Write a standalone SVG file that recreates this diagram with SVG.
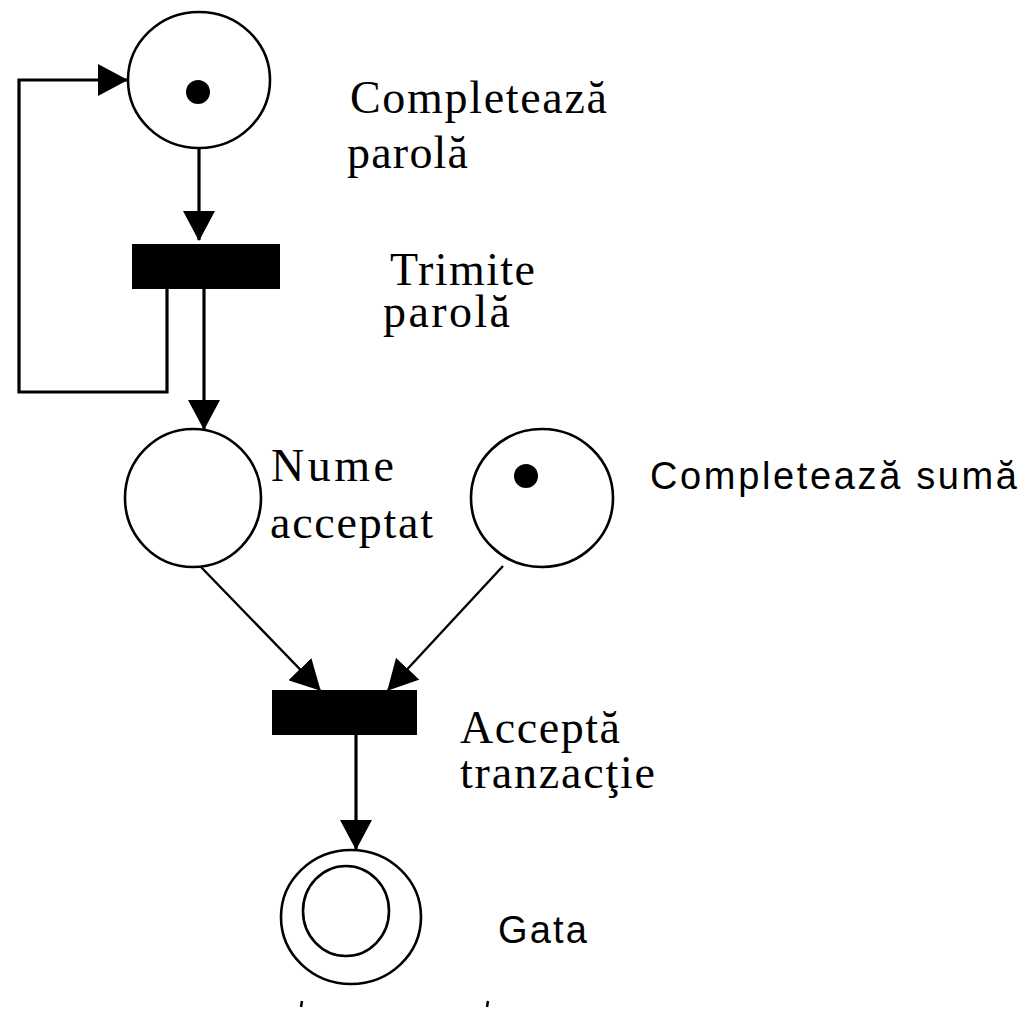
<svg xmlns="http://www.w3.org/2000/svg" width="1030" height="1010" viewBox="0 0 1030 1010">
  <style>
    .place { fill: #fff; stroke: #000; stroke-width: 2.6; }
    .token { fill: #000; }
    .trans { fill: #000; }
    .arc { fill: none; stroke: #000; stroke-width: 3.2; }
    .arc-thin { fill: none; stroke: #000; stroke-width: 2.4; }
    .serif { font-family: "Liberation Serif", "Times New Roman", serif; font-size: 46px; fill: #000; }
    .sans { font-family: "Liberation Sans", Arial, sans-serif; font-size: 38px; fill: #000; }
  </style>
  <defs>
    <marker id="head" markerUnits="userSpaceOnUse" viewBox="0 0 30 32" markerWidth="30" markerHeight="32" refX="29" refY="16" orient="auto">
      <path d="M0,0 L30,16 L0,32 Z" fill="#000"/>
    </marker>
  </defs>

  <rect width="1030" height="1010" fill="#fff"/>

  <!-- connectors -->
  <g id="connectors">
    <line class="arc" x1="199" y1="148" x2="199" y2="240" marker-end="url(#head)"/>
    <line class="arc" x1="204" y1="289" x2="204" y2="429" marker-end="url(#head)"/>
    <path class="arc" d="M167,289 V392 H19 V80 H127" marker-end="url(#head)"/>
    <line class="arc-thin" x1="200" y1="566" x2="320" y2="690" marker-end="url(#head)"/>
    <line class="arc-thin" x1="503" y1="566" x2="388" y2="690" marker-end="url(#head)"/>
    <line class="arc" x1="356" y1="735" x2="356" y2="849" marker-end="url(#head)"/>
  </g>

  <!-- place: Completează parolă -->
  <g id="p-completeaza-parola">
    <ellipse class="place" cx="199" cy="80" rx="71" ry="68"/>
    <circle class="token" cx="198" cy="92" r="12"/>
    <text class="serif" x="350" y="113" textLength="257" lengthAdjust="spacing">Completează</text>
    <text class="serif" x="347" y="168" textLength="121" lengthAdjust="spacing">parolă</text>
  </g>

  <!-- transition: Trimite parolă -->
  <g id="t-trimite-parola">
    <rect class="trans" x="132" y="244" width="148" height="45"/>
    <text class="serif" x="390" y="285" textLength="145" lengthAdjust="spacing">Trimite</text>
    <text class="serif" x="383" y="327" textLength="127" lengthAdjust="spacing">parolă</text>
  </g>

  <!-- place: Nume acceptat -->
  <g id="p-nume-acceptat">
    <ellipse class="place" cx="193" cy="498" rx="68" ry="69"/>
    <text class="serif" x="271" y="481" textLength="123" lengthAdjust="spacing">Nume</text>
    <text class="serif" x="270" y="538" textLength="163" lengthAdjust="spacing">acceptat</text>
  </g>

  <!-- place: Completează sumă -->
  <g id="p-completeaza-suma">
    <ellipse class="place" cx="542" cy="498" rx="71" ry="69"/>
    <circle class="token" cx="526" cy="476" r="12"/>
    <text class="sans" x="650" y="489" textLength="367" lengthAdjust="spacing">Completează sumă</text>
  </g>

  <!-- transition: Acceptă tranzacţie -->
  <g id="t-accepta-tranzactie">
    <rect class="trans" x="272" y="690" width="145" height="45"/>
    <text class="serif" x="460" y="743" textLength="160" lengthAdjust="spacing">Acceptă</text>
    <text class="serif" x="460" y="788" textLength="195" lengthAdjust="spacing">tranzacţie</text>
  </g>

  <!-- final place: Gata -->
  <g id="p-gata">
    <ellipse class="place" cx="351" cy="917" rx="70" ry="67"/>
    <ellipse class="place" cx="346" cy="911" rx="43" ry="45"/>
    <text class="sans" x="498" y="943" textLength="89" lengthAdjust="spacing">Gata</text>
  </g>

  <!-- small strokes along the bottom edge -->
  <g id="edge-marks" stroke="#000" stroke-width="2.5">
    <line x1="302" y1="1001" x2="301" y2="1007"/>
    <line x1="488" y1="1001" x2="487" y2="1007"/>
  </g>
</svg>
